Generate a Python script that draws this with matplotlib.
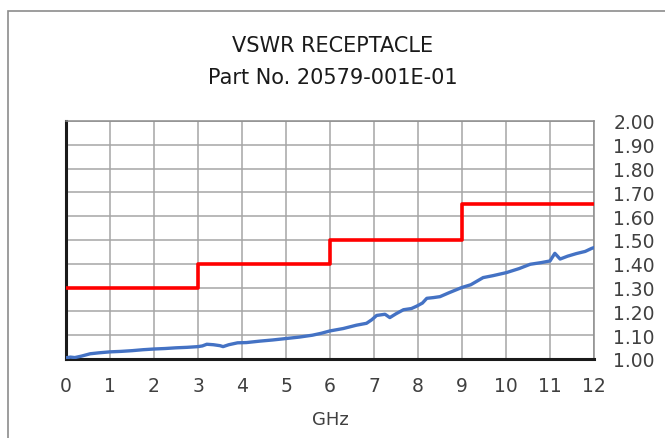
import matplotlib
matplotlib.use("Agg")
import matplotlib.pyplot as plt
from matplotlib.patches import Rectangle

freq_ghz = [0.0, 0.1, 0.2, 0.35, 0.55, 0.75, 1.0, 1.25, 1.5, 1.75, 2.0, 2.25, 2.5,
            2.75, 3.0, 3.1, 3.2, 3.35, 3.5, 3.57, 3.7, 3.9, 4.1, 4.4, 4.7, 5.0,
            5.3, 5.6, 5.8, 6.0, 6.3, 6.6, 6.83, 6.95, 7.06, 7.25, 7.36, 7.5,
            7.67, 7.85, 7.97, 8.1, 8.2, 8.35, 8.5, 8.7, 8.99, 9.2, 9.48, 9.7,
            10.01, 10.3, 10.55, 10.8, 11.0, 11.11, 11.23, 11.4, 11.6, 11.8, 11.95, 12.0]
vswr = [1.005, 1.008, 1.006, 1.012, 1.022, 1.026, 1.030, 1.032, 1.035, 1.039, 1.042, 1.044, 1.047,
        1.049, 1.052, 1.055, 1.062, 1.060, 1.056, 1.052, 1.060, 1.068, 1.069, 1.075, 1.080, 1.086,
        1.092, 1.100, 1.108, 1.118, 1.128, 1.142, 1.150, 1.165, 1.183, 1.188, 1.174, 1.190,
        1.207, 1.212, 1.222, 1.235, 1.255, 1.258, 1.262, 1.278, 1.300, 1.312, 1.342, 1.350,
        1.363, 1.380, 1.398, 1.405, 1.412, 1.444, 1.420, 1.432, 1.443, 1.452, 1.465, 1.468]

# specification limit (steps)
limit_freq = [0, 3, 6, 9, 12]
limit_vswr = [1.30, 1.40, 1.50, 1.65, 1.65]

x_ticks = list(range(0, 13))
y_ticks = [1.00 + 0.1 * i for i in range(11)]

fig = plt.figure(figsize=(6.65, 4.39), dpi=100, facecolor="white")
fig.patches.append(Rectangle((8 / 665, -0.1), 1.2, (439 - 12) / 439 + 0.1,
                             transform=fig.transFigure, fill=False,
                             edgecolor="#8c8c8c", linewidth=1.2))

ax = fig.add_axes([66 / 665, 79 / 439, 528 / 665, 238 / 439])
ax.step(limit_freq, limit_vswr, where="post", color="#ff0000", linewidth=2.6, zorder=3)
ax.plot(freq_ghz, vswr, color="#4472c4", linewidth=2.4, zorder=4)

ax.set_xlim(0, 12)
ax.set_ylim(1.0, 2.0)
ax.set_xticks(x_ticks)
ax.set_yticks(y_ticks)
ax.set_yticklabels([f"{v:.2f}" for v in y_ticks])
ax.yaxis.tick_right()
ax.tick_params(axis="both", length=0, labelsize=13.5, colors="#404040")
ax.tick_params(axis="x", pad=12)
ax.tick_params(axis="y", pad=14)
ax.grid(True, color="#a6a6a6", linewidth=1.1)
ax.set_axisbelow(True)

for side in ("top", "right"):
    ax.spines[side].set_color("#8c8c8c")
    ax.spines[side].set_linewidth(1.1)
for side in ("left", "bottom"):
    ax.spines[side].set_color("#1a1a1a")
    ax.spines[side].set_linewidth(2.2)

ax.set_xlabel("GHz", fontsize=13, color="#404040", labelpad=11)

fig.text(0.5, 1 - 46 / 439, "VSWR RECEPTACLE", ha="center", va="center",
         fontsize=15, color="#1a1a1a")
fig.text(0.5, 1 - 78 / 439, "Part No. 20579-001E-01", ha="center", va="center",
         fontsize=15, color="#1a1a1a")

fig.savefig("out.png", dpi=100)
